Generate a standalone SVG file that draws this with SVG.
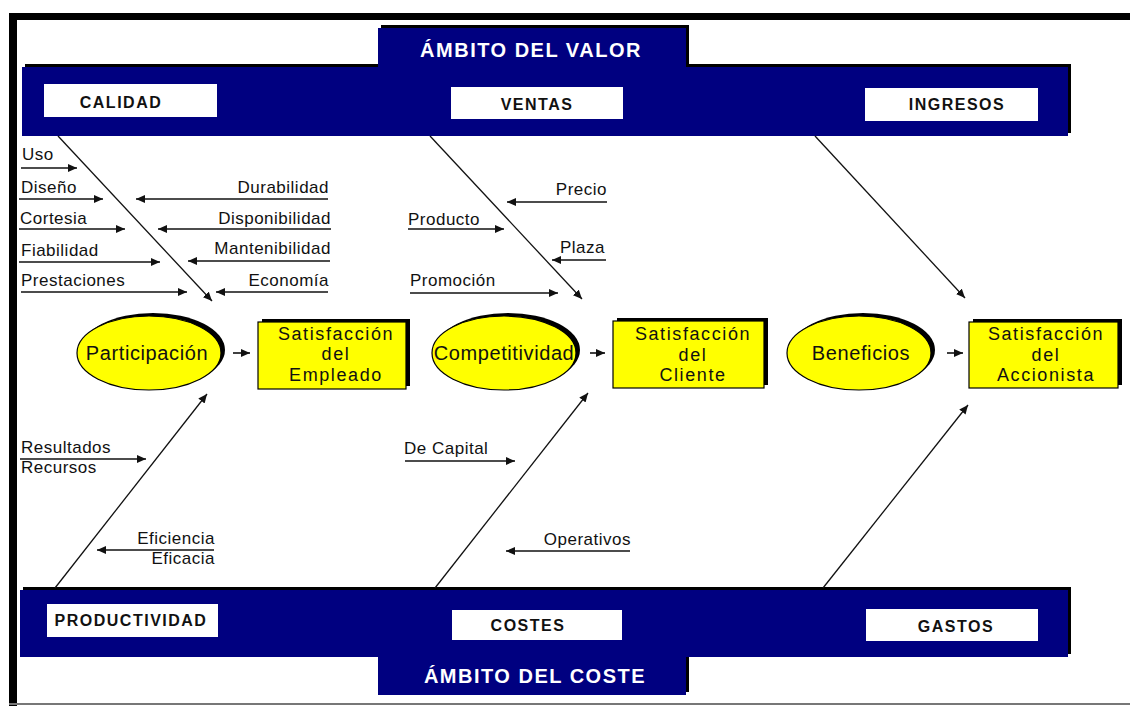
<svg xmlns="http://www.w3.org/2000/svg" width="1130" height="706" viewBox="0 0 1130 706">
<style>
.band{fill:#000080}
.shadow{fill:#000}
.wbox{fill:#fff}
.btitle{font-family:"Liberation Sans",Arial,sans-serif;font-weight:bold;font-size:20px;fill:#fff;letter-spacing:1.5px;text-anchor:middle}
.blabel{font-family:"Liberation Sans",Arial,sans-serif;font-weight:bold;font-size:16px;fill:#111;letter-spacing:1.5px;text-anchor:middle}
.lbl{font-family:"Liberation Sans",Arial,sans-serif;font-size:17px;fill:#111;letter-spacing:0.5px}
.end{text-anchor:end}
.node{font-family:"Liberation Sans",Arial,sans-serif;font-size:20px;fill:#111;letter-spacing:0.6px;text-anchor:middle}
.bt{font-family:"Liberation Sans",Arial,sans-serif;font-size:18px;fill:#111;letter-spacing:1.6px;text-anchor:middle}
.yel{fill:#ffff00;stroke:#000;stroke-width:1.2}
.diag{stroke:#111;stroke-width:1.3;fill:none;marker-end:url(#ah)}
.br{stroke:#111;stroke-width:1.6;fill:none;marker-end:url(#ah)}
</style>
<defs>
<marker id="ah" markerUnits="userSpaceOnUse" markerWidth="10" markerHeight="9" refX="9" refY="4" orient="auto">
<path d="M0,0 L9,4 L0,8 Z" fill="#111"/>
</marker>
</defs>
<rect width="1130" height="706" fill="#fff"/>
<g id="frame">
<rect x="9" y="13" width="1121" height="7" fill="#000"/>
<rect x="9" y="13" width="8" height="693" fill="#000"/>
<line x1="9" y1="704" x2="1130" y2="704" stroke="#777" stroke-width="2"/>
</g>
<g id="ambito-valor">
<path class="shadow" transform="translate(3,-3)" d="M22,67 H378 V28 H686 V67 H1068 V136 H22 Z"/>
<path class="band" d="M22,67 H378 V28 H686 V67 H1068 V136 H22 Z"/>
<text class="btitle" x="531" y="57">ÁMBITO DEL VALOR</text>
</g>
<g id="calidad"><rect class="wbox" x="44" y="84" width="173" height="33"/><text class="blabel" x="121" y="108">CALIDAD</text></g>
<g id="ventas"><rect class="wbox" x="451" y="87" width="172" height="32"/><text class="blabel" x="537" y="110">VENTAS</text></g>
<g id="ingresos"><rect class="wbox" x="865" y="88" width="173" height="33"/><text class="blabel" x="957" y="110">INGRESOS</text></g>
<g id="ambito-coste">
<path class="shadow" transform="translate(3,-3)" d="M20,590 H1068 V657 H686 V695 H378 V657 H20 Z"/>
<path class="band" d="M20,590 H1068 V657 H686 V695 H378 V657 H20 Z"/>
<text class="btitle" x="535" y="683">ÁMBITO DEL COSTE</text>
</g>
<g id="productividad"><rect class="wbox" x="47" y="604" width="171" height="33"/><text class="blabel" x="131" y="626">PRODUCTIVIDAD</text></g>
<g id="costes"><rect class="wbox" x="452" y="610" width="170" height="30"/><text class="blabel" x="528" y="631">COSTES</text></g>
<g id="gastos"><rect class="wbox" x="866" y="609" width="172" height="32"/><text class="blabel" x="956" y="632">GASTOS</text></g>

<g id="participacion">
<ellipse cx="153" cy="350" rx="72" ry="37" fill="#000"/>
<ellipse class="yel" cx="149" cy="353" rx="72" ry="37"/>
<text class="node" x="147" y="360">Participación</text>
</g>
<g id="sat-empleado">
<rect x="262" y="319" width="148" height="67" fill="#000"/>
<rect class="yel" x="258" y="322" width="148" height="67"/>
<text class="bt" x="336" y="339.5">Satisfacción</text>
<text class="bt" x="336" y="360">del</text>
<text class="bt" x="336" y="380.5">Empleado</text>
</g>
<g id="competitividad">
<ellipse cx="508" cy="350" rx="72" ry="37" fill="#000"/>
<ellipse class="yel" cx="504" cy="353" rx="72" ry="37"/>
<text class="node" x="504" y="360">Competitividad</text>
</g>
<g id="sat-cliente">
<rect x="617" y="318" width="151" height="67" fill="#000"/>
<rect class="yel" x="613" y="321" width="151" height="67"/>
<text class="bt" x="693" y="340">Satisfacción</text>
<text class="bt" x="693" y="360.5">del</text>
<text class="bt" x="693" y="381">Cliente</text>
</g>
<g id="beneficios">
<ellipse cx="863" cy="350" rx="72" ry="37" fill="#000"/>
<ellipse class="yel" cx="859" cy="353" rx="72" ry="37"/>
<text class="node" x="861" y="360">Beneficios</text>
</g>
<g id="sat-accionista">
<rect x="973" y="319" width="149" height="66" fill="#000"/>
<rect class="yel" x="969" y="322" width="149" height="66"/>
<text class="bt" x="1046" y="340">Satisfacción</text>
<text class="bt" x="1046" y="360.5">del</text>
<text class="bt" x="1046" y="381">Accionista</text>
</g>

<g id="connectors">
<line class="diag" x1="58" y1="136" x2="212" y2="301"/>
<line class="diag" x1="430" y1="136" x2="582" y2="299"/>
<line class="diag" x1="815" y1="136" x2="965" y2="298"/>
<line class="diag" x1="55" y1="588" x2="207" y2="394"/>
<line class="diag" x1="435" y1="588" x2="588" y2="393"/>
<line class="diag" x1="823" y1="588" x2="968" y2="405"/>
<line class="br" x1="233" y1="353" x2="250" y2="353"/>
<line class="br" x1="590" y1="353" x2="605" y2="353"/>
<line class="br" x1="947" y1="353" x2="963" y2="353"/>
<line class="br" x1="21" y1="168" x2="77" y2="168"/>
<line class="br" x1="19" y1="199" x2="103" y2="199"/>
<line class="br" x1="19" y1="229" x2="125" y2="229"/>
<line class="br" x1="19" y1="262" x2="160" y2="262"/>
<line class="br" x1="21" y1="292" x2="187" y2="292"/>
<line class="br" x1="328" y1="199" x2="136" y2="199"/>
<line class="br" x1="331" y1="229" x2="158" y2="229"/>
<line class="br" x1="330" y1="261" x2="188" y2="261"/>
<line class="br" x1="328" y1="292" x2="216" y2="292"/>
<line class="br" x1="607" y1="202" x2="507" y2="202"/>
<line class="br" x1="408" y1="229" x2="504" y2="229"/>
<line class="br" x1="606" y1="260" x2="552" y2="260"/>
<line class="br" x1="410" y1="293" x2="558" y2="293"/>
<line class="br" x1="20" y1="459" x2="146" y2="459"/>
<line class="br" x1="214" y1="550" x2="97" y2="550"/>
<line class="br" x1="405" y1="461" x2="515" y2="461"/>
<line class="br" x1="630" y1="551" x2="506" y2="551"/>
</g>

<g id="labels">
<text class="lbl" x="22" y="160">Uso</text>
<text class="lbl" x="21" y="193">Diseño</text>
<text class="lbl" x="20" y="224">Cortesia</text>
<text class="lbl" x="21" y="256">Fiabilidad</text>
<text class="lbl" x="21" y="286">Prestaciones</text>
<text class="lbl end" x="329" y="193">Durabilidad</text>
<text class="lbl end" x="331" y="224">Disponibilidad</text>
<text class="lbl end" x="331" y="254">Mantenibilidad</text>
<text class="lbl end" x="329" y="286">Economía</text>
<text class="lbl end" x="607" y="195">Precio</text>
<text class="lbl" x="408" y="225">Producto</text>
<text class="lbl end" x="605" y="253">Plaza</text>
<text class="lbl" x="410" y="286">Promoción</text>
<text class="lbl" x="21" y="453">Resultados</text>
<text class="lbl" x="21" y="473">Recursos</text>
<text class="lbl end" x="215" y="544">Eficiencia</text>
<text class="lbl end" x="215" y="564">Eficacia</text>
<text class="lbl" x="404" y="454">De Capital</text>
<text class="lbl end" x="631" y="545">Operativos</text>
</g>
</svg>
